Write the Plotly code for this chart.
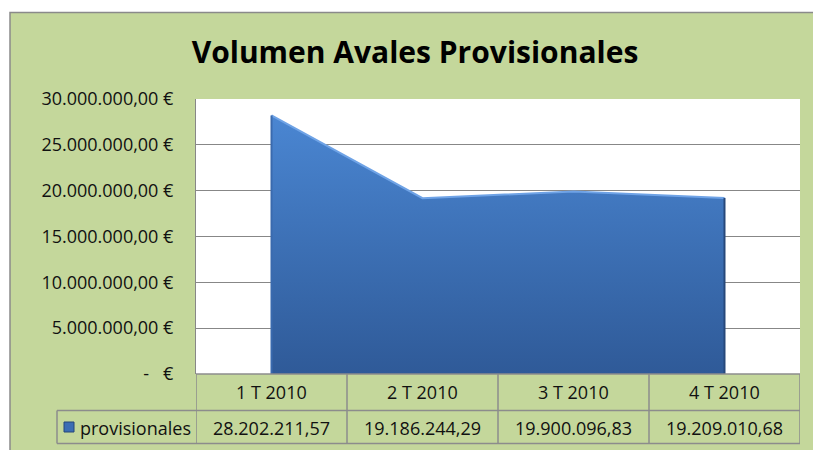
import plotly.graph_objects as go

# ---- data ----
categories = ["1 T 2010", "2 T 2010", "3 T 2010", "4 T 2010"]
values = [28202211.57, 19186244.29, 19900096.83, 19209010.68]
series_name = "provisionales"
y_ticks = [0, 5000000, 10000000, 15000000, 20000000, 25000000, 30000000]
title_text = "Volumen Avales Provisionales"


def es_num(v):
    s = f"{v:,.2f}"
    return s.replace(",", "X").replace(".", ",").replace("X", ".")


def es_eur(v):
    if v == 0:
        return "-\u00a0\u00a0\u00a0€"
    return es_num(v) + " €"


W, H = 813, 450
L, R, T, B = 196, 13, 99, 76
pw, ph = W - L - R, H - T - B


def px_x(p):  # pixel -> paper x
    return (p - L) / pw


def px_y(p):  # pixel -> paper y
    return (H - B - p) / ph


GREEN = "#C4D79B"
GRID = "#878787"
TBL = "#8C8C8C"
FONT = "Open Sans"
FS = 18

xs = list(range(len(categories)))

fig = go.Figure()
fig.add_trace(go.Scatter(
    x=xs, y=values, mode="lines", fill="tozeroy",
    line=dict(color="#6FA3E6", width=2),
    fillgradient=dict(type="vertical", start=0, stop=max(values),
                      colorscale=[[0, "#2F5A98"], [1, "#4A86D2"]]),
    showlegend=False, hoverinfo="skip",
))
# side edges of the area (shadow)
fig.add_trace(go.Scatter(x=[xs[-1], xs[-1]], y=[0, values[-1]], mode="lines",
                         line=dict(color="#27487A", width=2), showlegend=False, hoverinfo="skip"))
fig.add_trace(go.Scatter(x=[xs[0], xs[0]], y=[0, values[0]], mode="lines",
                         line=dict(color="#3A6AAE", width=2), showlegend=False, hoverinfo="skip"))

shapes = []
# outer chart frame (green)
shapes.append(dict(type="rect", xref="paper", yref="paper", layer="below",
                   x0=px_x(10), x1=px_x(830), y0=px_y(470), y1=px_y(12.5),
                   fillcolor=GREEN, line=dict(color="#8A8A8A", width=1.5)))
# plot area white
shapes.append(dict(type="rect", xref="paper", yref="paper", layer="below",
                   x0=0, x1=1, y0=0, y1=1, fillcolor="white", line=dict(width=0)))

# data table lines
row1_bot = px_y(410.5)
row2_bot = px_y(443.5)
legend_left = px_x(57)
n = len(categories)
for i in range(n + 1):
    xv = i - 0.5
    shapes.append(dict(type="line", xref="x", yref="paper", x0=xv, x1=xv,
                       y0=row2_bot, y1=0, line=dict(color=TBL, width=1.5)))
shapes.append(dict(type="line", xref="paper", yref="paper", x0=legend_left, x1=1,
                   y0=row1_bot, y1=row1_bot, line=dict(color=TBL, width=1.5)))
shapes.append(dict(type="line", xref="paper", yref="paper", x0=legend_left, x1=1,
                   y0=row2_bot, y1=row2_bot, line=dict(color=TBL, width=1.5)))
shapes.append(dict(type="line", xref="paper", yref="paper", x0=legend_left, x1=legend_left,
                   y0=row2_bot, y1=row1_bot, line=dict(color=TBL, width=1.5)))
shapes.append(dict(type="line", xref="paper", yref="paper", x0=0, x1=1,
                   y0=0, y1=0, line=dict(color=TBL, width=1.5)))
# legend key
shapes.append(dict(type="rect", xref="paper", yref="paper",
                   x0=px_x(64), x1=px_x(74), y0=px_y(432), y1=px_y(422),
                   fillcolor="#3B6DB4", line=dict(color="#24477A", width=1)))

annotations = []
row1_mid = px_y(392)
row2_mid = px_y(428)
for i, c in enumerate(categories):
    annotations.append(dict(x=i, y=row1_mid, xref="x", yref="paper", text=c,
                            showarrow=False, xanchor="center", yanchor="middle",
                            font=dict(family=FONT, size=FS, color="#111")))
    annotations.append(dict(x=i, y=row2_mid, xref="x", yref="paper", text=es_num(values[i]),
                            showarrow=False, xanchor="center", yanchor="middle",
                            font=dict(family=FONT, size=FS, color="#111")))
annotations.append(dict(x=px_x(78), y=row2_mid, xref="paper", yref="paper", text=series_name,
                        showarrow=False, xanchor="left", yanchor="middle",
                        font=dict(family=FONT, size=FS, color="#111")))

fig.update_layout(
    width=W, height=H,
    margin=dict(l=L, r=R, t=T, b=B),
    paper_bgcolor="white", plot_bgcolor="white",
    title=dict(text="<b>" + title_text + "</b>", x=415 / W, xref="container", xanchor="center",
               y=1 - 52 / H, yref="container", yanchor="middle",
               font=dict(family=FONT, size=30, color="#000")),
    xaxis=dict(range=[-0.5, n - 0.5], showticklabels=False, showgrid=False,
               zeroline=False, showline=False, fixedrange=True),
    yaxis=dict(range=[0, 30000000], tickvals=y_ticks, ticktext=[es_eur(v) for v in y_ticks],
               showgrid=True, gridcolor=GRID, gridwidth=1, zeroline=False,
               showline=True, linecolor=GRID, linewidth=1,
               ticks="", ticklabelstandoff=18,
               tickfont=dict(family=FONT, size=FS, color="#111"), fixedrange=True),
    shapes=shapes,
    annotations=annotations,
    showlegend=False,
)

fig.write_html("out.html", config={"displayModeBar": False},
               post_script="document.body.style.margin='0';document.body.style.overflow='hidden';")
